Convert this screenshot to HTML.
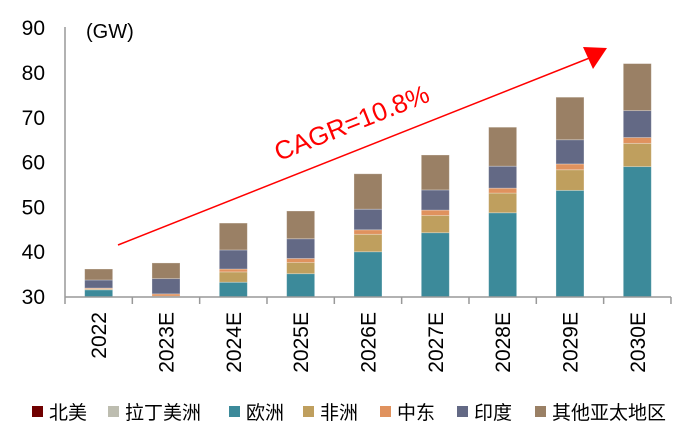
<!DOCTYPE html>
<html><head><meta charset="utf-8"><style>
body{margin:0;background:#fff;}
svg{display:block;font-family:"Liberation Sans","Noto Sans CJK SC",sans-serif;}
</style></head><body>
<svg id="chart" width="700" height="433">
<g id="bars"></g>
<line x1="65" y1="27" x2="65" y2="297" stroke="#999" stroke-width="1.5"/>
<line x1="65" y1="297" x2="671" y2="297" stroke="#999" stroke-width="1.5"/>
<g id="yticks"></g>
<g id="xticks"></g>
<text x="86" y="38" font-size="20" fill="#000">(GW)</text>
<line x1="118" y1="245" x2="592" y2="57" stroke="#f00" stroke-width="1.5"/>
<polygon points="607,48 583,47 593,69" fill="#f00"/>
<text x="355" y="131" font-size="26" fill="#f00" text-anchor="middle" transform="rotate(-21.6 355 131)">CAGR=10.8%</text>
<g id="legend"></g>
</svg>
<script>
const categories=["2022","2023E","2024E","2025E","2026E","2027E","2028E","2029E","2030E"];
const seriesNames=["北美","拉丁美洲","欧洲","非洲","中东","印度","其他亚太地区"];
const northAmerica=[0,0,0,0,0,0,0,0,0];
const latinAmerica=[0,0,0,0,0,0,0,0,0];
const europe=[1.6,0,3.3,5.2,10.1,14.35,18.8,23.8,29.1];
const africa=[0.2,0.2,2.3,2.5,3.9,3.85,4.4,4.6,5.2];
const middleEast=[0.2,0.5,0.65,0.9,1.0,1.2,1.1,1.3,1.3];
const india=[1.8,3.4,4.25,4.4,4.6,4.5,4.9,5.4,6.0];
const otherAPAC=[2.45,3.5,6.0,6.2,7.9,7.8,8.7,9.5,10.5];
const yTicks=[30,40,50,60,70,80,90];
const colors=["#700000","#BDBDB0","#3C8A9A","#BF9F5E","#E0925E","#636985","#9A8065"];
const series=[northAmerica,latinAmerica,europe,africa,middleEast,india,otherAPAC];
const NS="http://www.w3.org/2000/svg";
const x0=65,step=67.33,bw=28,base=30;
function yPos(v){return 297-(v-30)*4.48;}
function xPos(i){return x0+step*(i+0.5);}
function mk(t,a,p){const e=document.createElementNS(NS,t);for(const k in a)e.setAttribute(k,a[k]);p.appendChild(e);return e;}
const bars=document.getElementById('bars');
categories.forEach((c,i)=>{let cum=base;series.forEach((s,j)=>{const v=s[i];if(v<=0)return;const r=mk('rect',{x:xPos(i)-bw/2,y:yPos(cum+v),width:bw,height:yPos(cum)-yPos(cum+v),fill:colors[j],stroke:"rgba(255,255,255,0.35)","stroke-width":0.8},bars);


cum+=v;});});
const yt=document.getElementById('yticks');
yTicks.forEach(v=>{const t=mk('text',{x:45,y:yPos(v)+7,"font-size":21,"text-anchor":"end",fill:"#000"},yt);t.textContent=v;

});
const xt=document.getElementById('xticks');
for(let i=0;i<=categories.length;i++){const l=mk('line',{x1:x0+step*i,y1:297,x2:x0+step*i,y2:304,stroke:"#999","stroke-width":1.5},xt);

}
categories.forEach((c,i)=>{const x=xPos(i)+7.5,y=312;const t=mk('text',{x:x,y:y,"font-size":21,"text-anchor":"end",fill:"#000",transform:`rotate(-90 ${x} ${y})`},xt);t.textContent=c;

});
const lg=document.getElementById('legend');
const lx=[32,108,229,303,380,457,535];
seriesNames.forEach((n,j)=>{const g=mk('g',{},lg);


mk('rect',{x:lx[j],y:406,width:11,height:11,fill:colors[j]},g);
const t=mk('text',{x:lx[j]+17,y:419,"font-size":19,fill:"#000"},g);t.textContent=n;});
</script>
</body></html>
